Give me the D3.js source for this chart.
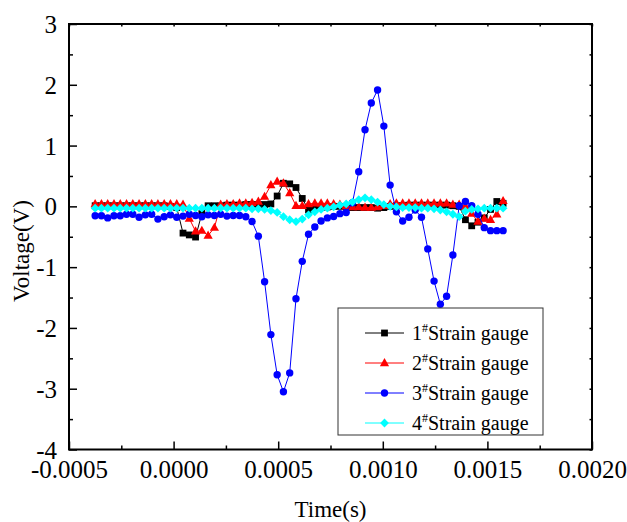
<!DOCTYPE html>
<html>
<head>
<meta charset="utf-8">
<script src="https://cdn.jsdelivr.net/npm/d3@7"></script>
<style>
  body { margin: 0; background: #fff; }
  svg { display: block; }
  text { font-family: "Liberation Serif", "Times New Roman", serif; fill: #000; }
</style>
</head>
<body>
<div id="chart"></div>
<script>
// sample times (s)
var times = [-0.000375, -0.000345, -0.000315, -0.000285, -0.000255, -0.000225, -0.000195, -0.000165, -0.000135, -0.000105,
  -0.000075, -0.000045, -0.000015, 0.000015, 0.000045, 0.000075, 0.000105, 0.000135, 0.000165, 0.000195,
  0.000225, 0.000255, 0.000285, 0.000315, 0.000345, 0.000375, 0.000405, 0.000435, 0.000465, 0.000495,
  0.000525, 0.000555, 0.000585, 0.000615, 0.000645, 0.000675, 0.000705, 0.000735, 0.000765, 0.000795,
  0.000825, 0.000855, 0.000885, 0.000915, 0.000945, 0.000975, 0.001005, 0.001035, 0.001065, 0.001095,
  0.001125, 0.001155, 0.001185, 0.001215, 0.001245, 0.001275, 0.001305, 0.001335, 0.001365, 0.001395,
  0.001425, 0.001455, 0.001485, 0.001515, 0.001545, 0.001575];

var gauge1 = [0.01, 0.01, 0.01, 0.01, 0.01, 0.01, 0.01, 0.01, 0.01, 0.01,
  0.01, 0.01, 0.0, -0.02, -0.44, -0.47, -0.505, -0.12, 0.01, 0.01,
  0.01, 0.02, 0.02, 0.02, 0.03, 0.03, 0.03, 0.03, 0.04, 0.17,
  0.38, 0.37, 0.31, 0.13, -0.06, -0.03, -0.02, -0.01, 0.0, 0.0,
  -0.01, -0.02, -0.02, -0.02, -0.02, -0.03, -0.02, 0.0, 0.01, 0.01,
  0.02, 0.02, 0.02, 0.02, 0.02, 0.02, 0.02, 0.01, 0.0, -0.22,
  -0.32, -0.26, -0.19, -0.05, 0.08, 0.05];

var gauge2 = [0.04, 0.04, 0.04, 0.04, 0.04, 0.04, 0.04, 0.04, 0.04, 0.04,
  0.04, 0.04, 0.04, 0.04, 0.03, -0.2, -0.41, -0.40, -0.48, -0.35,
  0.03, 0.04, 0.04, 0.05, 0.05, 0.06, 0.08, 0.16, 0.35, 0.41,
  0.38, 0.22, 0.01, 0.01, 0.04, 0.05, 0.05, 0.05, 0.04, 0.03,
  0.0, -0.01, -0.01, -0.02, -0.02, -0.01, 0.01, 0.04, 0.05, 0.05,
  0.05, 0.05, 0.05, 0.05, 0.05, 0.05, 0.05, 0.03, 0.03, 0.0,
  -0.12, -0.25, -0.2, -0.22, -0.13, 0.09];

var gauge3 = [-0.155, -0.155, -0.19, -0.155, -0.155, -0.13, -0.13, -0.18, -0.14, -0.13,
  -0.21, -0.17, -0.14, -0.18, -0.16, -0.13, -0.15, -0.17, -0.14, -0.15,
  -0.13, -0.16, -0.15, -0.15, -0.17, -0.25, -0.49, -1.24, -2.11, -2.77,
  -3.05, -2.74, -1.52, -0.905, -0.46, -0.34, -0.24, -0.19, -0.166, -0.12,
  -0.10, 0.06, 0.57, 1.26, 1.70, 1.915, 1.32, 0.35, -0.09, -0.24,
  -0.18, -0.06, -0.18, -0.70, -1.23, -1.61, -1.48, -0.80, 0.01, 0.08,
  0.01, -0.13, -0.35, -0.40, -0.40, -0.40];

var gauge4 = [-0.03, -0.03, -0.03, -0.03, -0.03, -0.03, -0.03, -0.03, -0.03, -0.03,
  -0.03, -0.03, -0.03, -0.03, -0.03, -0.03, -0.03, -0.03, -0.03, -0.03,
  -0.03, -0.03, -0.03, -0.03, -0.03, -0.04, -0.04, -0.05, -0.07, -0.10,
  -0.17, -0.22, -0.25, -0.21, -0.14, -0.09, -0.05, -0.03, -0.01, 0.02,
  0.04, 0.07, 0.11, 0.14, 0.11, 0.07, 0.03, 0.0, -0.01, -0.02,
  -0.02, -0.02, -0.03, -0.03, -0.04, -0.06, -0.09, -0.13, -0.17, -0.08,
  -0.05, -0.04, -0.03, -0.03, -0.03, -0.03];

var seriesNames = ["1", "2", "3", "4"];
var seriesColors = ["#000000", "#ff0000", "#0000ff", "#00ffff"];
var xTicks = [-0.0005, 0.0, 0.0005, 0.0010, 0.0015, 0.0020];
var xTickLabels = ["-0.0005", "0.0000", "0.0005", "0.0010", "0.0015", "0.0020"];
var xMinor = [-0.00025, 0.00025, 0.00075, 0.00125, 0.00175];
var yTicks = [3, 2, 1, 0, -1, -2, -3, -4];
var yTickLabels = ["3", "2", "1", "0", "-1", "-2", "-3", "-4"];
var yMinor = [2.5, 1.5, 0.5, -0.5, -1.5, -2.5, -3.5];

function drawChart() {
  var width = 627, height = 522;
  var pl = 69, pr = 592, pt = 24, pb = 449.5;

  var svg = d3.select("#chart").append("svg").attr("width", width).attr("height", height);
  var x = d3.scaleLinear().domain([-0.0005, 0.002]).range([pl, pr]);
  var y = d3.scaleLinear().domain([-4, 3]).range([pb, pt]);

  // markers: square, triangle, circle, diamond
  function marker(sel, kind) {
    if (kind == 0) {
      sel.append("rect").attr("x", -3.4).attr("y", -3.4).attr("width", 6.8).attr("height", 6.8);
    } else if (kind == 1) {
      sel.append("path").attr("d", "M0,-5L4.6,3.2L-4.6,3.2Z");
    } else if (kind == 2) {
      sel.append("circle").attr("r", 3.7);
    } else {
      sel.append("path").attr("d", "M0,-4.4L4.4,0L0,4.4L-4.4,0Z");
    }
  }

  var allSeries = [gauge1, gauge2, gauge3, gauge4];
  var line = d3.line().x(function(d) { return x(d.t); }).y(function(d) { return y(d.v); });

  allSeries.forEach(function(vals, k) {
    var pts = vals.map(function(v, i) { return { t: times[i], v: v }; });
    var g = svg.append("g");
    g.append("path").datum(pts).attr("d", line).attr("fill", "none")
      .attr("stroke", seriesColors[k]).attr("stroke-width", 1);
    g.selectAll("g.pt").data(pts).enter().append("g").attr("class", "pt")
      .attr("transform", function(d) { return "translate(" + x(d.t) + "," + y(d.v) + ")"; })
      .attr("fill", seriesColors[k])
      .each(function() { marker(d3.select(this), k); });
  });

  // axes (ticks point inward)
  function styleAxis(g) {
    g.select(".domain").remove();
    g.selectAll("line").attr("stroke", "#000").attr("stroke-width", 1.5);
  }
  svg.append("g").attr("transform", "translate(0," + pb + ")")
    .call(d3.axisBottom(x).tickValues(xTicks).tickSize(-8).tickFormat(function(d, i) { return xTickLabels[i]; }))
    .call(styleAxis)
    .selectAll("text").attr("y", 28.5).attr("dy", 0).style("font-size", "25px")
    .style("font-family", "'Liberation Serif', serif");
  svg.append("g").attr("transform", "translate(0," + pb + ")")
    .call(d3.axisBottom(x).tickValues(xMinor).tickSize(-4).tickFormat("")).call(styleAxis);
  svg.append("g").attr("transform", "translate(" + pl + ",0)")
    .call(d3.axisLeft(y).tickValues(yTicks).tickSize(-8).tickFormat(function(d, i) { return yTickLabels[i]; }))
    .call(styleAxis)
    .selectAll("text").attr("x", -12).attr("dy", "0.34em").style("font-size", "25px")
    .style("font-family", "'Liberation Serif', serif");
  svg.append("g").attr("transform", "translate(" + pl + ",0)")
    .call(d3.axisLeft(y).tickValues(yMinor).tickSize(-4).tickFormat("")).call(styleAxis);
  svg.append("g").attr("transform", "translate(0," + pt + ")")
    .call(d3.axisTop(x).tickValues(xTicks.concat(xMinor)).tickSize(-2.5).tickFormat("")).call(styleAxis);
  svg.append("g").attr("transform", "translate(" + pr + ",0)")
    .call(d3.axisRight(y).tickValues(yTicks.concat(yMinor)).tickSize(-2.5).tickFormat("")).call(styleAxis);

  svg.append("rect").attr("x", pl).attr("y", pt).attr("width", pr - pl).attr("height", pb - pt)
    .attr("fill", "none").attr("stroke", "#000").attr("stroke-width", 2);

  // axis titles
  svg.append("text").attr("x", (pl + pr) / 2).attr("y", 517).attr("text-anchor", "middle")
    .style("font-size", "23px").text("Time(s)");
  svg.append("text").attr("transform", "translate(29,251) rotate(-90)").attr("text-anchor", "middle")
    .style("font-size", "23px").text("Voltage(V)");

  // legend
  var lg = svg.append("g");
  lg.append("rect").attr("x", 338).attr("y", 308).attr("width", 205).attr("height", 127)
    .attr("fill", "#fff").attr("stroke", "#333").attr("stroke-width", 1);
  seriesNames.forEach(function(name, k) {
    var ry = 333 + k * 30;
    lg.append("line").attr("x1", 365).attr("x2", 404).attr("y1", ry).attr("y2", ry)
      .attr("stroke", seriesColors[k]).attr("stroke-width", 1);
    var m = lg.append("g").attr("transform", "translate(384.5," + ry + ")").attr("fill", seriesColors[k]);
    marker(m, k);
    var t = lg.append("text").attr("x", 412).attr("y", ry + 7).style("font-size", "20px");
    t.append("tspan").text(name);
    t.append("tspan").attr("dy", -8).style("font-size", "12px").text("#");
    t.append("tspan").attr("dy", 8).text("Strain gauge");
  });
}
drawChart();
</script>
</body>
</html>
